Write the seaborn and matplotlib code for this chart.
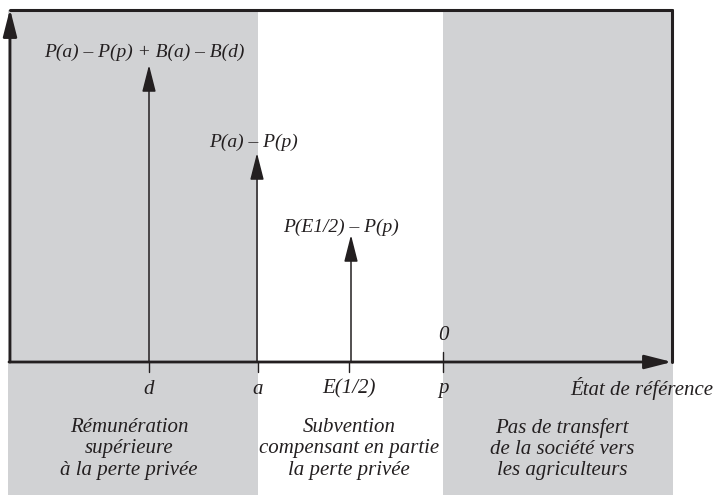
import matplotlib
matplotlib.use("Agg")
import matplotlib.pyplot as plt
import seaborn as sns

# === Values (pixel-like units, axis at y=0) ===
tick_labels = ["d", "a", "E(1/2)", "p"]
tick_x = [149, 258, 349, 443]

arrow_x = [149, 257, 351]
arrow_top = [297, 209, 127]
arrow_labels = ["P(a) – P(p) + B(a) – B(d)", "P(a) – P(p)", "P(E1/2) – P(p)"]
label_x = [144, 253, 341]
label_y = [310, 220, 135]

zone_left = [8, 258, 443]
zone_right = [258, 443, 673]
zone_shaded = [True, False, True]
zone_text = ["Rémunération\nsupérieure\nà la perte privée",
             "Subvention\ncompensant en partie\nla perte privée",
             "Pas de transfert\nde la société vers\nles agriculteurs"]
zone_text_x = [129, 349, 562]

x_axis_end = 672
y_axis_top = 352
y_axis_x = 10

sns.set_theme(style="white")
plt.rcParams["font.family"] = ["Liberation Serif", "DejaVu Serif"]

ink = "#231f20"
gray = "#d1d2d4"

fig = plt.figure(figsize=(7.17, 4.95), dpi=100)
ax = fig.add_axes([0, 0, 1, 1])
ax.set_xlim(0, 717)
ax.set_ylim(-133, 362)
ax.axis("off")

# shaded zones
for l, r, s in zip(zone_left, zone_right, zone_shaded):
    if s:
        ax.fill_between([l, r], -133, y_axis_top, color=gray, lw=0, zorder=0)

# frame: top and right lines
ax.plot([y_axis_x, x_axis_end], [y_axis_top, y_axis_top], color=ink, lw=2.2, zorder=3)
ax.plot([x_axis_end, x_axis_end], [0, y_axis_top], color=ink, lw=2.2, zorder=3)

arrow_style = "-|>,head_length=1.65,head_width=0.42"
# axes with arrows
ax.annotate("", xy=(y_axis_x, y_axis_top + 1), xytext=(y_axis_x, 0),
            arrowprops=dict(arrowstyle=arrow_style, color=ink, lw=2.0,
                            mutation_scale=10, shrinkA=0, shrinkB=0), zorder=4)
ax.annotate("", xy=(x_axis_end, 0), xytext=(y_axis_x - 1, 0),
            arrowprops=dict(arrowstyle=arrow_style, color=ink, lw=2.0,
                            mutation_scale=10, shrinkA=0, shrinkB=0), zorder=4)

# ticks
for x in tick_x:
    ax.plot([x, x], [-10, 0], color=ink, lw=1.0, zorder=3)
ax.plot([tick_x[-1], tick_x[-1]], [0, 10], color=ink, lw=1.0, zorder=3)

# value arrows
for x, top in zip(arrow_x, arrow_top):
    ax.annotate("", xy=(x, top), xytext=(x, 0),
                arrowprops=dict(arrowstyle=arrow_style, color=ink, lw=1.1,
                                mutation_scale=10, shrinkA=0, shrinkB=0), zorder=4)

fs = 14
for t, x, y in zip(arrow_labels, label_x, label_y):
    ax.text(x, y, t, ha="center", va="center", style="italic", fontsize=fs, color=ink)

fs2 = 15
for t, x in zip(tick_labels, tick_x):
    ax.text(x, -27, t, ha="center", va="center", style="italic", fontsize=fs2, color=ink)
ax.text(443, 27, "0", ha="center", va="center", style="italic", fontsize=fs2, color=ink)
ax.text(713, -27, "État de référence", ha="right", va="center", style="italic",
        fontsize=fs2, color=ink)

for t, x in zip(zone_text, zone_text_x):
    ax.text(x, -87, t, ha="center", va="center", style="italic", fontsize=fs2,
            color=ink, linespacing=1.15)

fig.savefig("out.png", dpi=100)
